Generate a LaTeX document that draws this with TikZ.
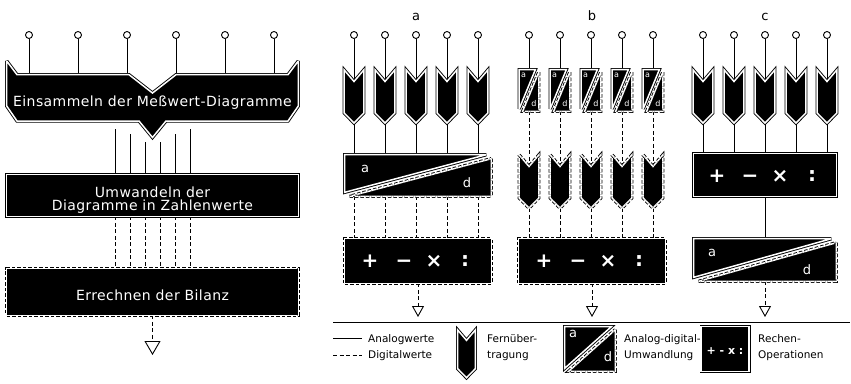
\documentclass[tikz,border=0pt]{standalone}
\usepackage{fontspec}
\setmainfont{DejaVu Sans}
\newfontfamily\widefont{DejaVu Sans}[LetterSpace=3]
\usetikzlibrary{arrows.meta}
\pgfdeclarelayer{bg}
\pgfsetlayers{bg,main}
\tikzset{
  wire/.style={line width=0.9pt},
  dwire/.style={line width=0.9pt, dash pattern=on 4pt off 2.5pt},
  solidshape/.style={fill=black, draw=black, line width=0.9pt, double=white, double distance=1.5pt, miter limit=3},
  dashshape/.style={fill=black, draw=white, line width=1.5pt, miter limit=3,
    postaction={fill=none, draw=black, line width=0.9pt, double=white, double distance=1.5pt, dash pattern=on 3.5pt off 2pt}},
  sbox/.style={solidshape, inner sep=0pt, outer sep=0pt},
  dbox/.style={dashshape, inner sep=0pt, outer sep=0pt},
  term/.style={circle, draw, fill=white, line width=0.9pt, inner sep=0pt, minimum size=7pt},
  boxtext/.style={text=white, font=\widefont\fontsize{14}{13}\selectfont, inner sep=0pt, anchor=base},
  opsym/.style={text=white, font=\bfseries\fontsize{20}{20}\selectfont, inner sep=0pt},
  lbl/.style={font=\fontsize{13}{13}\selectfont, inner sep=0pt, anchor=base},
  legtext/.style={font=\fontsize{10.5}{10.5}\selectfont, inner sep=0pt, anchor=base west},
  adl/.style={text=white, font=\fontsize{13}{13}\selectfont, inner sep=0pt},
  adls/.style={text=white, font=\fontsize{8}{8}\selectfont, inner sep=0pt},
  arr/.style={dwire, -{Triangle[open, length=11pt, width=12pt]}},
  bigarr/.style={dwire, -{Triangle[open, length=14pt, width=16pt]}},
  pics/chev/.style={code={
    \path[#1] (-9.8,0) -- (0,11.5) -- (9.8,0) -- (9.8,43) -- (0,53) -- (-9.8,43) -- cycle;
    \coordinate (-n) at (0,11.5);
    \coordinate (-s) at (0,53);
  }},
  pics/adbox/.style n args={4}{code={
    \path[solidshape] (1.7,1.7) -- ({#1-1.7-#3},1.7) -- (1.7,{#2-1.7-#4}) -- cycle;
    \path[dashshape] ({#1-1.7},{1.7+#4}) -- ({#1-1.7},{#2-1.7}) -- ({1.7+#3},{#2-1.7}) -- cycle;
    \coordinate (-n) at ({#1/2},1.7);
    \coordinate (-s) at ({#1/2},{#2-1.7});
  }},
}
\begin{document}
\begin{tikzpicture}[x=1pt,y=-1pt]
\useasboundingbox (0,0) rectangle (851,383);

% ---------------- left panel ----------------
\foreach \i/\x in {1/29,2/78,3/127,4/176,5/225,6/274} \node[term] (t\i) at (\x,35) {};
\path[solidshape] (6.7,61) -- (17,74.7) -- (129,74.7) -- (152.5,93) -- (176,74.7) -- (288,74.7)
  -- (298.3,61) -- (298.3,106) -- (288,121) -- (166,121) -- (152.5,137.5) -- (139,121)
  -- (17,121) -- (6.7,106) -- cycle;
\coordinate (Ltop) at (152.5,74.7);
\node[boxtext] (tx1) at (152.5,106) {Einsammeln der Meßwert-Diagramme};
\foreach \i/\x/\y in {1/115/129,2/130/134,3/145/142,4/160/142,5/175/134,6/190/129} \coordinate (s\i) at (\x,\y);
\node[sbox, minimum width=291.6pt, minimum height=41.6pt] (box2) at (152.5,195.5) {};
\node[boxtext] at (152.5,197) {Umwandeln der};
\node[boxtext] at (152.5,210) {Diagramme in Zahlenwerte};
\node[dbox, minimum width=291.6pt, minimum height=46.6pt] (box3) at (152.5,292) {};
\node[boxtext] at (152.5,300) {Errechnen der Bilanz};
\coordinate (e0) at (152.5,355);

% ---------------- panel a ----------------
\node[lbl] (la) at (416,20) {a};
\foreach \i/\x in {1/354,2/385,3/416,4/447,5/478} {
  \node[term] (ta\i) at (\x,35) {};
  \pic (ca\i) at (\x,70) {chev=solidshape};
}
\pic (ada) at (343,153) {adbox={150}{45}{5}{4}};
\node[adl] at (365,169) {a};
\node[adl] at (467,183) {d};
\node[dbox, minimum width=146.7pt, minimum height=44.7pt] (opa) at (418,261) {};
\node[opsym] at (370,261) {+};
\node[opsym] at (404,264) {−};
\node[opsym] at (434,261) {×};
\node[opsym] at (465,261) {:};
\coordinate (ea) at (418,317);

% ---------------- panel b ----------------
\node[lbl] (lb) at (592,20) {b};
\foreach \i/\x in {1/529,2/560,3/591,4/622,5/653} {
  \node[term] (tb\i) at (\x,35) {};
  \pic (adb\i) at (\x-11.5,68) {adbox={23}{45}{3.5}{2.5}};
  \node[adls] at (\x-5.5,75) {a};
  \node[adls] at (\x+5,104) {d};
  \pic (cb\i) at (\x,155) {chev=dashshape};
}
\node[dbox, minimum width=146.7pt, minimum height=44.7pt] (opb) at (592,261) {};
\node[opsym] at (544,261) {+};
\node[opsym] at (578,264) {−};
\node[opsym] at (608,261) {×};
\node[opsym] at (639,261) {:};
\coordinate (eb) at (592,317);

% ---------------- panel c ----------------
\node[lbl] (lc) at (765,20) {c};
\foreach \i/\x in {1/703,2/734,3/765,4/796,5/827} {
  \node[term] (tc\i) at (\x,35) {};
  \pic (cc\i) at (\x,70) {chev=solidshape};
}
\node[sbox, minimum width=142.7pt, minimum height=42.7pt] (opc) at (765,175) {};
\node[opsym] at (717,176) {+};
\node[opsym] at (750,179) {−};
\node[opsym] at (780,176) {×};
\node[opsym] at (812,176) {:};
\pic (adc) at (692,237) {adbox={146}{46}{5}{4}};
\node[adl] at (712,253) {a};
\node[adl] at (807,270) {d};
\coordinate (ec) at (765,317);

% ---------------- legend ----------------
\coordinate (sepL) at (333,322);
\coordinate (sepR) at (850,322);
\coordinate (la1) at (333,338); \coordinate (la2) at (362,338);
\coordinate (ld1) at (333,355); \coordinate (ld2) at (362,355);
\node[legtext] at (368,342) {Analogwerte};
\node[legtext] at (368,358) {Digitalwerte};
\pic[scale=0.9] (lchev) at (466.5,330) {chev=solidshape};
\node[legtext] at (487,342) {Fernüber-};
\node[legtext] at (487,358) {tragung};
\pic (lad) at (563,325) {adbox={54}{48}{4}{3}};
\node[adl] at (573,334) {a};
\node[adl] at (608,357) {d};
\node[legtext] at (624,342) {Analog-digital-};
\node[legtext] at (624,358) {Umwandlung};
\node[sbox, minimum width=47.7pt, minimum height=44.7pt] (lop) at (725,349) {};
\node[text=white, font=\bfseries\fontsize{11}{11}\selectfont, inner sep=0pt] at (725,351) {+ - x :};
\node[legtext] at (758,342) {Rechen-};
\node[legtext] at (758,358) {Operationen};

% ---------------- connectors ----------------
\begin{pgfonlayer}{bg}
\foreach \i in {1,...,6} {
  \draw[wire] (t\i) -- (t\i |- Ltop);
  \draw[wire] (s\i) -- (s\i |- box2.north);
  \draw[dwire] (box2.south -| s\i) -- (box3.north -| s\i);
}
\draw[bigarr] (box3.south) -- (e0);
\foreach \i in {1,...,5} {
  \draw[wire] (ta\i) -- (ca\i-n);
  \draw[wire] (ca\i-s) -- (ca\i-s |- ada-n);
  \draw[dwire] (ca\i-s |- ada-s) -- (ca\i-s |- opa.north);
  \draw[wire] (tb\i) -- (adb\i-n);
  \draw[dwire] (adb\i-s) -- (cb\i-n);
  \draw[dwire] (cb\i-s) -- (cb\i-s |- opb.north);
  \draw[wire] (tc\i) -- (cc\i-n);
  \draw[wire] (cc\i-s) -- (cc\i-s |- opc.north);
}
\draw[arr] (opa.south) -- (ea);
\draw[arr] (opb.south) -- (eb);
\draw[wire] (opc.south) -- (adc-n);
\draw[arr] (adc-s) -- (ec);
\draw[wire] (sepL) -- (sepR);
\draw[wire] (la1) -- (la2);
\draw[dwire] (ld1) -- (ld2);
\end{pgfonlayer}
\end{tikzpicture}
\end{document}
